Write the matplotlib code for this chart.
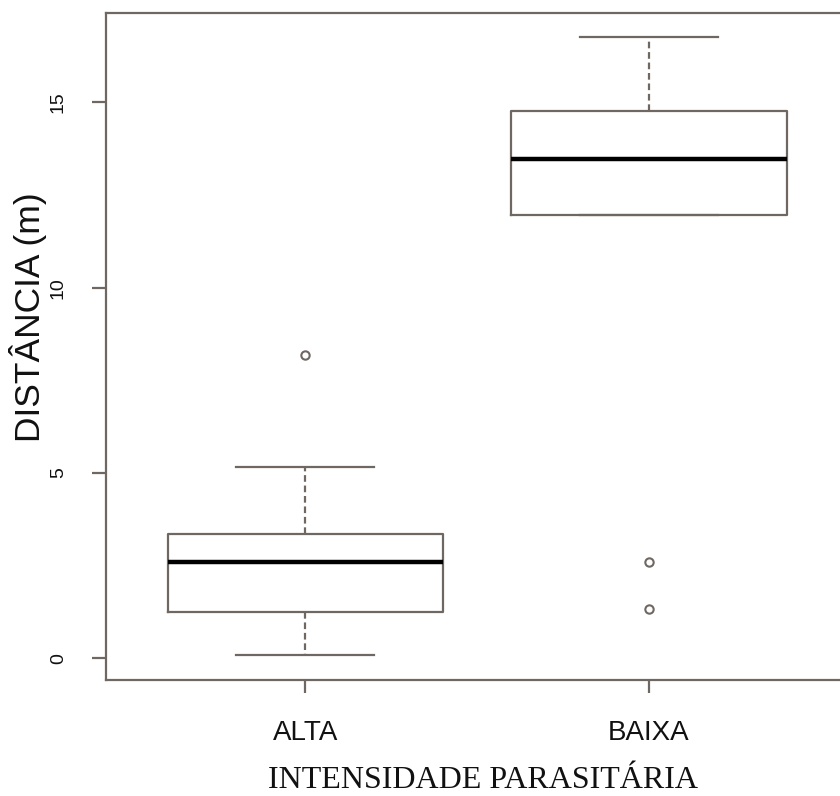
import matplotlib
matplotlib.use("Agg")
import matplotlib.pyplot as plt

# Dados (boxplot estilo R)
grupos = ["ALTA", "BAIXA"]
mediana = [2.59, 13.46]
q1 = [1.26, 11.96]
q3 = [3.35, 14.76]
whis_inf = [0.09, 11.96]
whis_sup = [5.17, 16.77]
outliers = [[8.18], [2.59, 1.33]]
y_ticks = [0, 5, 10, 15]

cor = "#6f6762"

# -------------------------------------------------------------------------
fig = plt.figure(figsize=(8.4, 7.96), dpi=100)
ax = fig.add_axes([0.1258, 0.1457, 0.8843, 0.8383])

stats = []
for i in range(len(grupos)):
    stats.append(dict(med=mediana[i], q1=q1[i], q3=q3[i],
                      whislo=whis_inf[i], whishi=whis_sup[i],
                      fliers=outliers[i], label=grupos[i]))

ax.bxp(stats, positions=[1, 2], widths=0.8, showfliers=True,
       boxprops=dict(color=cor, linewidth=1.6),
       medianprops=dict(color="black", linewidth=3.2, solid_capstyle="butt"),
       whiskerprops=dict(color=cor, linewidth=1.6, linestyle=(0, (3.0, 1.7))),
       capprops=dict(color=cor, linewidth=1.6),
       flierprops=dict(marker="o", markersize=6, markerfacecolor="none",
                       markeredgecolor=cor, markeredgewidth=1.5))

ax.set_xlim(0.42, 2.58)
ax.set_ylim(-0.585, 17.42)

for s in ax.spines.values():
    s.set_color(cor)
    s.set_linewidth(1.6)

ax.set_xticks([1, 2])
ax.set_xticklabels(grupos, fontsize=20, family="Liberation Sans", color="#111111")
ax.set_yticks(y_ticks)
ax.set_yticklabels([str(v) for v in y_ticks], fontsize=14, family="Liberation Sans",
                   rotation=90, va="center", color="#111111")
ax.tick_params(axis="x", length=9, width=1.6, color=cor, pad=20)
ax.tick_params(axis="y", length=10, width=1.6, color=cor, pad=18)

fig.text(28 / 840, 1 - 317 / 796, "DISTÂNCIA (m)", rotation=90, fontsize=25.5,
         family="Liberation Sans", ha="center", va="center", color="#111111")
fig.text(483 / 840, 1 - 781 / 796, "INTENSIDADE PARASITÁRIA", fontsize=23,
         family="Liberation Serif", ha="center", va="center", color="#111111")

plt.savefig("out.png", dpi=100)
